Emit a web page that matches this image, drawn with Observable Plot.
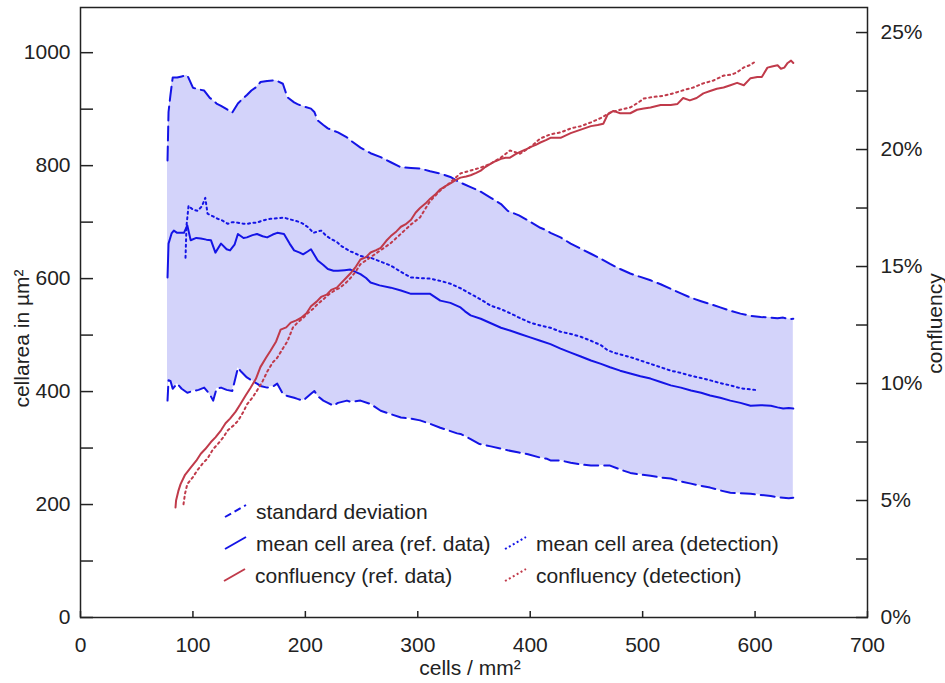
<!DOCTYPE html>
<html>
<head>
<meta charset="utf-8">
<script src="https://cdn.jsdelivr.net/npm/d3@7"></script>
<script src="https://cdn.jsdelivr.net/npm/@observablehq/plot@0.6"></script>
<style>
  html, body { margin: 0; padding: 0; background: #fff; }
  #chart { width: 945px; height: 683px; }
</style>
</head>
<body>
<div id="chart"></div>
<script>
// ---------- data ----------
const sdX = [77.4,78.3,80,82,86,90,95,100,105,110,115,118,121,125,130,135,140,143,148,152,157,160,166,172,175,180,184,190,193,198,205,208,211,216,220,225,229,237,240,249,258,267,276,285,294,302,311,320,329,335,338,347,355,365,374,380,390,398,409,415,418,427,436,445,454,463,471,480,489,498,507,516,525,534,543,552,560,569,578,587,596,605,614,620,625,630,634];
const sdUpper = [809,895,925,956,956,958,960,938,935,933,920,916,910,906,900,894,910,916,925,933,940,948,950,951,950,945,921,912,909,905,901,895,880,872,866,862,859,850,845,832,822,815,806,797,796,795,790,786,780,773,770,762,755,743,732,720,712,703,690,685,681,673,662,653,644,635,626,617,609,603,597,590,582,574,566,560,555,549,543,538,534,532,531,530,531,528,529];
const sdLower = [384,420,419,405,414,405,398,401,403,407,395,384,405,407,403,401,442,435,425,420,414,410,407,410,414,396,392,389,387,384,396,401,392,384,380,375,380,384,382,384,378,366,360,354,352,349,343,336,330,326,325,316,307,303,299,296,292,289,283,281,278,278,274,271,269,269,269,262,256,253,251,248,246,241,237,233,230,225,221,220,219,217,215,213,212,211,212];

const meanRefX = [77.4,78.3,81,83,86,92,95,98,103,107,112,116,120,125,130,133,137,140,145,148,153,157,162,166,171,175,181,186,190,195,198,202,205,211,216,220,225,229,235,240,249,254,258,266,276,285,294,302,311,320,329,338,342,347,356,365,374,382,391,400,409,418,427,436,445,454,463,471,480,489,498,507,516,525,534,543,552,560,569,578,587,596,605,614,620,625,630,634];
const meanRefY = [602,662,680,685,681,681,694,668,672,671,669,668,646,662,652,650,660,679,672,673,677,679,675,673,678,681,679,662,650,646,643,648,652,632,624,617,614,614,615,616,608,601,593,588,584,579,573,573,573,561,557,549,542,535,529,521,513,508,502,496,490,484,476,469,462,455,449,443,437,432,427,423,417,411,407,402,398,393,389,384,380,375,376,375,372,370,371,370];

const meanDetX = [93.4,94.3,96.1,100,104,108,111,113,118,122,126,131,135,140,145,149,153,157,162,169,175,181,186,190,195,198,203,207,214,218,222,228,231,240,243,249,258,267,276,285,294,302,311,320,329,338,347,356,365,374,383,391,400,409,418,427,436,445,454,463,469,476,489,498,507,516,525,534,543,552,560,569,578,585,590,596,600];
const meanDetY = [637,694,729,722,720,728,743,715,710,706,703,697,700,699,697,697,699,699,703,706,707,708,705,703,700,697,690,681,685,677,671,665,659,648,646,640,637,630,623,612,602,601,600,596,591,583,573,563,552,546,538,530,522,517,513,506,502,497,490,482,473,468,461,455,449,443,437,433,428,424,420,415,411,407,405,404,403];

const confRefX = [84.5,85,87,89,93,98,103,107,111,116,120,125,129,133,138,142,147,151,156,160,165,169,174,178,183,187,192,196,201,205,210,214,219,223,228,232,236,240,245,249,254,258,263,267,272,276,281,285,289,294,298,302,307,311,316,320,325,329,334,338,343,347,352,356,360,365,369,374,378,382,387,391,396,400,405,409,414,418,427,436,445,454,460,465,469,474,480,489,495,501,507,516,525,531,536,542,548,554,560,566,572,578,584,590,596,602,606,611,615,620,623,626,629,632,634];
const confRefY = [4.7,5.0,5.4,5.7,6.1,6.4,6.7,7.0,7.2,7.5,7.7,8.0,8.3,8.5,8.8,9.1,9.5,9.8,10.2,10.7,11.1,11.4,11.8,12.3,12.4,12.6,12.7,12.8,13.0,13.3,13.5,13.7,13.8,14.0,14.1,14.3,14.5,14.7,15.0,15.3,15.4,15.6,15.7,15.8,16.1,16.3,16.5,16.7,16.8,17.0,17.3,17.5,17.7,17.9,18.1,18.3,18.45,18.55,18.7,18.8,18.85,18.9,19.0,19.1,19.25,19.4,19.5,19.6,19.65,19.65,19.8,19.9,20.0,20.1,20.2,20.3,20.4,20.5,20.5,20.7,20.85,21.0,21.05,21.1,21.5,21.65,21.55,21.55,21.7,21.75,21.8,21.9,21.9,21.95,22.2,22.1,22.2,22.4,22.5,22.6,22.65,22.75,22.85,22.75,23.05,23.1,23.1,23.5,23.55,23.6,23.45,23.5,23.7,23.8,23.7];

const confDetX = [91.6,93,95,100,104,109,113,118,122,127,131,136,140,145,148,153,157,162,166,171,175,180,184,189,193,198,202,207,211,216,222,227,231,236,240,245,249,258,267,276,285,294,302,311,320,329,338,347,356,365,374,382,391,400,409,418,427,436,445,454,463,471,480,489,496,501,510,519,527,536,545,554,563,572,579,584,590,595,599];
const confDetY = [4.84,5.3,5.7,6.0,6.3,6.6,6.8,7.2,7.4,7.7,8.0,8.2,8.4,8.8,9.1,9.4,9.7,10.1,10.5,10.9,11.1,11.5,11.8,12.4,12.6,12.8,13.0,13.2,13.4,13.6,13.85,14.0,14.1,14.3,14.5,14.8,15.1,15.4,15.7,16.0,16.4,16.8,17.1,17.8,18.25,18.6,18.98,19.1,19.23,19.4,19.66,19.96,19.82,20.1,20.47,20.65,20.73,20.9,21.0,21.16,21.35,21.58,21.7,21.8,22.0,22.18,22.25,22.3,22.4,22.53,22.65,22.83,22.95,23.16,23.2,23.3,23.51,23.6,23.72];

// tick labels
const xTicks = [0,100,200,300,400,500,600,700];
const areaTicks = [0,200,400,600,800,1000];
const areaMinorTicks = [0,100,200,300,400,500,600,700,800,900,1000];
const confTicks = [0,5,10,15,20,25];
const confMinorTicks = [0,2.5,5,7.5,10,12.5,15,17.5,20,22.5,25];

// scale domains
const areaMax = 1080;       // left axis top (µm²)
const confMax = 26.07;      // right axis top (%)
const K = areaMax / confMax; // % -> left-axis units

// ---------- build tables ----------
const sd = sdX.map((x, i) => ({x, hi: sdUpper[i], lo: sdLower[i]}));
const meanRef = meanRefX.map((x, i) => ({x, y: meanRefY[i]}));
const meanDet = meanDetX.map((x, i) => ({x, y: meanDetY[i]}));
const confRef = confRefX.map((x, i) => ({x, y: confRefY[i] * K}));
const confDet = confDetX.map((x, i) => ({x, y: confDetY[i] * K}));

const blue = "#1414e6";
const red = "#c03a4a";
const fillBlue = "#d3d3fa";
const ink = "#222";
const FS = 21;

const chart = Plot.plot({
  width: 945,
  height: 683,
  marginLeft: 80,
  marginRight: 78,
  marginTop: 7,
  marginBottom: 66,
  style: {fontFamily: "'Liberation Sans', Arial, sans-serif", fontSize: FS + "px", color: ink, background: "#fff"},
  x: {domain: [0, 700]},
  y: {domain: [0, areaMax]},
  marks: [
    Plot.areaY(sd, {x: "x", y1: "lo", y2: "hi", fill: fillBlue, curve: "linear"}),
    Plot.line(sd, {x: "x", y: "hi", stroke: blue, strokeWidth: 2, strokeDasharray: "14,6"}),
    Plot.line(sd, {x: "x", y: "lo", stroke: blue, strokeWidth: 2, strokeDasharray: "14,6"}),
    Plot.line(meanRef, {x: "x", y: "y", stroke: blue, strokeWidth: 2}),
    Plot.line(meanDet, {x: "x", y: "y", stroke: blue, strokeWidth: 2, strokeDasharray: "2,3.5"}),
    Plot.line(confRef, {x: "x", y: "y", stroke: red, strokeWidth: 2}),
    Plot.line(confDet, {x: "x", y: "y", stroke: red, strokeWidth: 2, strokeDasharray: "2,3.5"}),
    Plot.frame({stroke: ink, strokeWidth: 1.5}),
    // bottom axis
    Plot.axisX({ticks: xTicks, tickSize: -6, tickFormat: () => "", stroke: ink, strokeWidth: 1.5, label: null}),
    Plot.axisX({ticks: xTicks, tickSize: 0, tickPadding: 20, fontSize: FS, fill: ink, tickFormat: d => String(d), label: null}),
    // left axis
    Plot.axisY({ticks: areaMinorTicks, tickSize: -13, tickFormat: () => "", stroke: ink, strokeWidth: 1.5, label: null}),
    Plot.axisY({ticks: areaTicks, tickSize: 0, tickPadding: 10, fontSize: FS, fill: ink, tickFormat: d => String(d), label: null}),
    // right axis (confluency %)
    Plot.axisY({anchor: "right", ticks: confMinorTicks.map(c => c * K), tickSize: -12, tickFormat: () => "", stroke: ink, strokeWidth: 1.5, label: null}),
    Plot.axisY({anchor: "right", ticks: confTicks.map(c => c * K), tickSize: 0, tickPadding: 13, fontSize: FS, fill: ink,
      tickFormat: v => Math.round(v / K) + "%", label: null}),
    // axis titles
    Plot.text(["cells / mm²"], {frameAnchor: "bottom", textAnchor: "middle", lineAnchor: "middle", dx: -4, dy: 51, fontSize: FS, fill: ink}),
    Plot.text(["cellarea in µm²"], {frameAnchor: "left", textAnchor: "middle", lineAnchor: "middle", dx: -58, dy: 26, rotate: -90, fontSize: FS, fill: ink}),
    Plot.text(["confluency"], {frameAnchor: "right", textAnchor: "middle", lineAnchor: "middle", dx: 68, dy: 11, rotate: -90, fontSize: FS, fill: ink})
  ]
});

document.getElementById("chart").appendChild(chart);

// ---------- legend (inside plot area) ----------
const legendItems = [
  {label: "standard deviation", color: blue, dash: "7,4", x: 225, y: 519},
  {label: "mean cell area (ref. data)", color: blue, dash: null, x: 225, y: 551},
  {label: "confluency (ref. data)", color: red, dash: null, x: 224, y: 583},
  {label: "mean cell area (detection)", color: blue, dash: "2,2.5", x: 505, y: 551},
  {label: "confluency (detection)", color: red, dash: "2,2.5", x: 505, y: 583}
];
const svg = d3.select(chart.tagName.toLowerCase() === "svg" ? chart : chart.querySelector("svg"));
const lg = svg.append("g")
  .attr("font-family", "'Liberation Sans', Arial, sans-serif")
  .attr("font-size", FS)
  .attr("text-anchor", "start");
for (const d of legendItems) {
  lg.append("line")
    .attr("x1", d.x).attr("y1", d.y - 2)
    .attr("x2", d.x + 21).attr("y2", d.y - 14)
    .attr("stroke", d.color).attr("stroke-width", 2)
    .attr("stroke-dasharray", d.dash);
  lg.append("text")
    .attr("x", d.x + 31).attr("y", d.y)
    .attr("fill", ink)
    .attr("text-anchor", "start")
    .text(d.label);
}
</script>
</body>
</html>
